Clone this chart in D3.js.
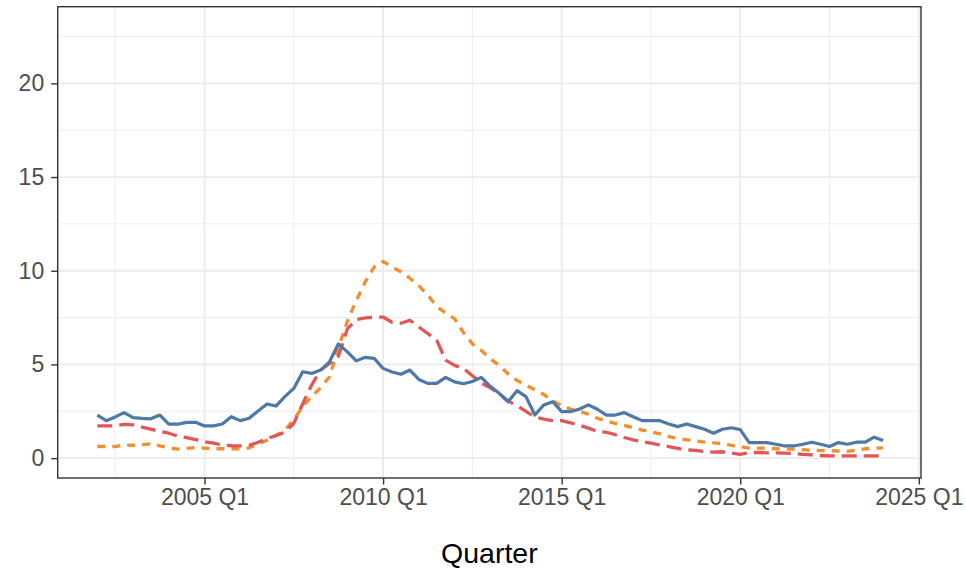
<!DOCTYPE html>
<html>
<head>
<meta charset="utf-8">
<script src="https://cdn.jsdelivr.net/npm/d3@7"></script>
<style>
  html, body { margin: 0; padding: 0; background: #fff; }
  svg { display: block; font-family: "Liberation Sans", Arial, Helvetica, sans-serif; }
</style>
</head>
<body>
<svg id="chart" width="966" height="569"></svg>
<script>
// ---- data ----
const startYear = 2002;           // first quarter: 2002 Q1
const seriesBlue = [2.30,2.00,2.20,2.43,2.16,2.12,2.10,2.30,1.81,1.81,1.91,1.91,1.72,1.72,1.82,2.21,2.00,2.13,2.52,2.89,2.78,3.28,3.72,4.61,4.52,4.70,5.14,6.10,5.67,5.19,5.38,5.32,4.79,4.60,4.48,4.70,4.20,3.99,3.99,4.31,4.07,3.97,4.09,4.31,3.83,3.46,3.01,3.60,3.28,2.30,2.84,3.01,2.48,2.48,2.62,2.84,2.61,2.30,2.30,2.43,2.21,2.00,2.00,2.00,1.82,1.68,1.82,1.68,1.54,1.33,1.54,1.62,1.52,0.83,0.83,0.83,0.74,0.65,0.65,0.74,0.85,0.74,0.62,0.83,0.74,0.85,0.85,1.12,0.94];
const seriesRed = [1.72,1.72,1.72,1.80,1.78,1.65,1.55,1.42,1.33,1.18,1.10,0.99,0.88,0.80,0.70,0.66,0.65,0.68,0.85,1.05,1.20,1.38,1.86,2.90,3.90,4.70,5.05,5.45,6.90,7.40,7.48,7.52,7.53,7.25,7.20,7.36,7.00,6.65,6.30,5.23,4.95,4.79,4.40,4.00,3.75,3.45,3.05,2.80,2.50,2.20,2.08,2.00,2.00,1.88,1.75,1.60,1.42,1.38,1.25,1.10,0.98,0.88,0.80,0.70,0.62,0.52,0.44,0.41,0.35,0.32,0.34,0.28,0.20,0.30,0.30,0.28,0.28,0.27,0.25,0.20,0.17,0.14,0.12,0.12,0.12,0.12,0.12,0.12,0.12];
const seriesOrange = [0.62,0.62,0.62,0.70,0.68,0.72,0.76,0.66,0.55,0.48,0.52,0.57,0.53,0.50,0.50,0.50,0.50,0.55,0.75,0.95,1.20,1.50,2.05,2.75,3.30,3.75,4.34,5.90,7.30,8.42,9.40,10.20,10.50,10.20,9.95,9.60,9.20,8.70,8.10,7.75,7.45,6.70,6.10,5.75,5.30,4.95,4.50,4.15,3.90,3.65,3.40,3.05,2.80,2.62,2.50,2.35,2.13,1.98,1.85,1.75,1.62,1.50,1.40,1.30,1.15,1.05,0.98,0.92,0.86,0.82,0.78,0.68,0.62,0.53,0.53,0.53,0.50,0.48,0.48,0.45,0.42,0.40,0.40,0.38,0.36,0.42,0.50,0.53,0.55];
const xTickYears = [2005, 2010, 2015, 2020, 2025];
const xTickLabels = ["2005 Q1", "2010 Q1", "2015 Q1", "2020 Q1", "2025 Q1"];
const yTicks = [0, 5, 10, 15, 20];
const xTitle = "Quarter";

// quarter positions as fractional years
const quarters = seriesBlue.map((_, i) => startYear + i / 4);

// ---- layout ----
const svg = d3.select("#chart");
const panel = { left: 57.7, right: 921, top: 6.7, bottom: 478 };

const x = d3.scaleLinear().domain([2000.89, 2025.06]).range([panel.left, panel.right]);
const y = d3.scaleLinear().domain([-1.06, 24.09]).range([panel.bottom, panel.top]);

const g = svg.append("g");

g.append("rect").attr("x", panel.left).attr("y", panel.top)
  .attr("width", panel.right - panel.left).attr("height", panel.bottom - panel.top)
  .attr("fill", "#fff");

// minor gridlines
const xMinor = [2002.5, 2007.5, 2012.5, 2017.5, 2022.5];
const yMinor = [2.5, 7.5, 12.5, 17.5, 22.5];
g.selectAll(".xminor").data(xMinor).enter().append("line")
  .attr("x1", d => x(d)).attr("x2", d => x(d)).attr("y1", panel.top).attr("y2", panel.bottom)
  .attr("stroke", "#EBEBEB").attr("stroke-width", 0.9);
g.selectAll(".yminor").data(yMinor).enter().append("line")
  .attr("x1", panel.left).attr("x2", panel.right).attr("y1", d => y(d)).attr("y2", d => y(d))
  .attr("stroke", "#EBEBEB").attr("stroke-width", 0.9);
// major gridlines
g.selectAll(".xmajor").data(xTickYears).enter().append("line")
  .attr("x1", d => x(d)).attr("x2", d => x(d)).attr("y1", panel.top).attr("y2", panel.bottom)
  .attr("stroke", "#EBEBEB").attr("stroke-width", 1.8);
g.selectAll(".ymajor").data(yTicks).enter().append("line")
  .attr("x1", panel.left).attr("x2", panel.right).attr("y1", d => y(d)).attr("y2", d => y(d))
  .attr("stroke", "#EBEBEB").attr("stroke-width", 1.8);

svg.append("defs").append("clipPath").attr("id", "clip")
  .append("rect").attr("x", panel.left).attr("y", panel.top)
  .attr("width", panel.right - panel.left).attr("height", panel.bottom - panel.top);

const line = d3.line().x((d, i) => x(quarters[i])).y(d => y(d));
const lines = g.append("g").attr("clip-path", "url(#clip)");

lines.append("path").datum(seriesOrange).attr("d", line)
  .attr("fill", "none").attr("stroke", "#F28E2B").attr("stroke-width", 3.3)
  .attr("stroke-dasharray", "8,7").attr("stroke-linejoin", "round");
lines.append("path").datum(seriesRed).attr("d", line)
  .attr("fill", "none").attr("stroke", "#E15759").attr("stroke-width", 3.3)
  .attr("stroke-dasharray", "15,7").attr("stroke-linejoin", "round");
lines.append("path").datum(seriesBlue).attr("d", line)
  .attr("fill", "none").attr("stroke", "#4E79A7").attr("stroke-width", 3.2)
  .attr("stroke-linejoin", "round");

g.append("rect").attr("x", panel.left).attr("y", panel.top)
  .attr("width", panel.right - panel.left).attr("height", panel.bottom - panel.top)
  .attr("fill", "none").attr("stroke", "#333333").attr("stroke-width", 1.4);

// axes
const xAxis = d3.axisBottom(x).tickValues(xTickYears)
  .tickFormat((d, i) => xTickLabels[i]).tickSize(6.5).tickPadding(4);
const xa = svg.append("g").attr("transform", `translate(0,${panel.bottom})`).call(xAxis);
xa.select(".domain").remove();
xa.selectAll(".tick line").attr("stroke", "#333333").attr("stroke-width", 1.4);
xa.selectAll(".tick text").attr("fill", "#4D4D4D")
  .style("font-size", "23px").style("font-family", "'Liberation Sans', Arial, sans-serif");

const yAxis = d3.axisLeft(y).tickValues(yTicks).tickSize(6.5).tickPadding(7);
const ya = svg.append("g").attr("transform", `translate(${panel.left},0)`).call(yAxis);
ya.select(".domain").remove();
ya.selectAll(".tick line").attr("stroke", "#333333").attr("stroke-width", 1.4);
ya.selectAll(".tick text").attr("fill", "#4D4D4D")
  .style("font-size", "23px").style("font-family", "'Liberation Sans', Arial, sans-serif");

svg.append("text").attr("x", (panel.left + panel.right) / 2).attr("y", 563)
  .attr("text-anchor", "middle").attr("fill", "#000")
  .style("font-size", "28.5px").style("font-family", "'Liberation Sans', Arial, sans-serif")
  .text(xTitle);
</script>
</body>
</html>
